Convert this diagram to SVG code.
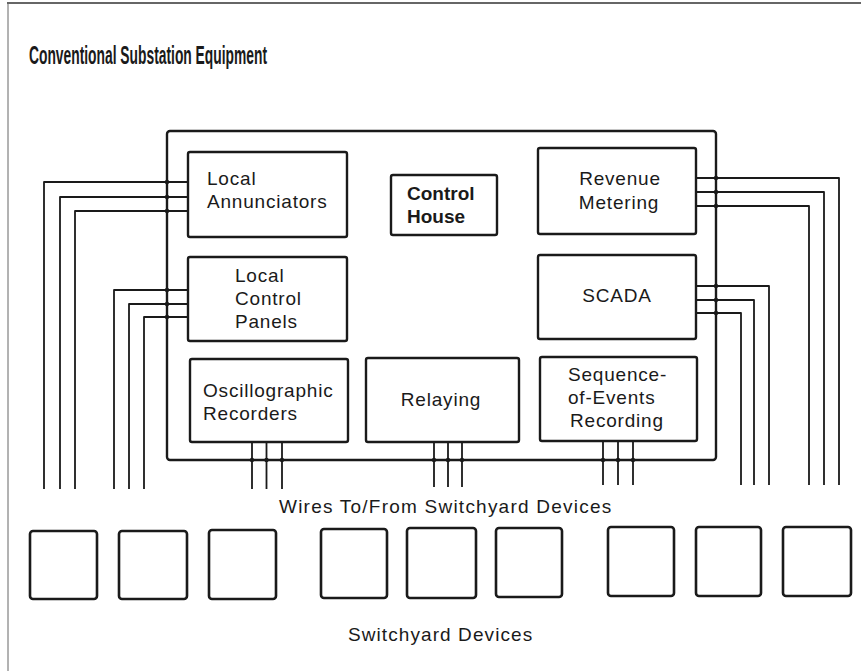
<svg xmlns="http://www.w3.org/2000/svg" width="861" height="671" viewBox="0 0 861 671">
<style>
.bg{fill:#fff}
.box{fill:#fff;stroke:#1a1a1a;stroke-width:2.4}
.dev{fill:#fff;stroke:#1a1a1a;stroke-width:2.6}
.wire{fill:none;stroke:#1a1a1a;stroke-width:1.8;stroke-linejoin:round}
.dot{fill:#1a1a1a}
.t{font-family:"Liberation Sans",Arial,Helvetica,sans-serif;font-size:19px;fill:#1a1a1a;letter-spacing:0.8px}
.tb{font-family:"Liberation Sans",Arial,Helvetica,sans-serif;font-size:19px;font-weight:bold;fill:#1a1a1a}
.title{font-family:"Liberation Sans",Arial,Helvetica,sans-serif;font-size:25px;font-weight:bold;fill:#1a1a1a}
.frame{fill:none;stroke:#333;stroke-width:1.6}
.frameL{fill:none;stroke:#666;stroke-width:1}
</style>
<rect class="bg" x="0" y="0" width="861" height="671"/>
<line class="frame" x1="7" y1="3" x2="861" y2="3"/>
<line class="frameL" x1="8" y1="3" x2="8" y2="671"/>
<text class="title" x="29" y="64" textLength="238" lengthAdjust="spacingAndGlyphs">Conventional Substation Equipment</text>

<g id="control-house">
<rect class="box" x="167" y="131" width="549" height="329" rx="3"/>
</g>

<g id="connectors">
<path class="wire" d="M188,182 H44 V489 M188,197 H60 V489 M188,211 H75 V489"/>
<path class="wire" d="M188,290 H114 V489 M188,304 H129 V489 M188,317 H144 V489"/>
<path class="wire" d="M696,178 H839 V485 M696,192 H824 V485 M696,206 H809 V485"/>
<path class="wire" d="M696,286 H769 V485 M696,300 H754 V485 M696,313 H741 V485"/>
<path class="wire" d="M252,442 V489 M266.5,442 V489 M282,442 V489"/>
<path class="wire" d="M434,442 V487 M448,442 V487 M462,442 V487"/>
<path class="wire" d="M603,441 V485 M618,441 V485 M633,441 V485"/>
<g class="dot">
<circle cx="167" cy="182" r="2.2"/><circle cx="167" cy="197" r="2.2"/><circle cx="167" cy="211" r="2.2"/>
<circle cx="167" cy="290" r="2.2"/><circle cx="167" cy="304" r="2.2"/><circle cx="167" cy="317" r="2.2"/>
<circle cx="716" cy="178" r="2.2"/><circle cx="716" cy="192" r="2.2"/><circle cx="716" cy="206" r="2.2"/>
<circle cx="716" cy="286" r="2.2"/><circle cx="716" cy="300" r="2.2"/><circle cx="716" cy="313" r="2.2"/>
<circle cx="252" cy="460" r="2.2"/><circle cx="266.5" cy="460" r="2.2"/><circle cx="282" cy="460" r="2.2"/>
<circle cx="434" cy="460" r="2.2"/><circle cx="448" cy="460" r="2.2"/><circle cx="462" cy="460" r="2.2"/>
<circle cx="603" cy="460" r="2.2"/><circle cx="618" cy="460" r="2.2"/><circle cx="633" cy="460" r="2.2"/>
</g>
</g>

<g id="local-annunciators">
<rect class="box" x="188" y="152" width="159" height="85" rx="2"/>
<text class="t" x="207" y="185">Local</text>
<text class="t" x="207" y="208">Annunciators</text>
</g>
<g id="local-control-panels">
<rect class="box" x="188" y="257" width="159" height="84" rx="2"/>
<text class="t" x="235" y="282">Local</text>
<text class="t" x="235" y="305">Control</text>
<text class="t" x="235" y="328">Panels</text>
</g>
<g id="oscillographic-recorders">
<rect class="box" x="190" y="359" width="158" height="83" rx="2"/>
<text class="t" x="203" y="397">Oscillographic</text>
<text class="t" x="203" y="420">Recorders</text>
</g>
<g id="control-house-label">
<rect class="box" x="391" y="175" width="106" height="60" rx="2"/>
<text class="tb" x="407" y="200">Control</text>
<text class="tb" x="407" y="223">House</text>
</g>
<g id="relaying">
<rect class="box" x="366" y="358" width="153" height="84" rx="2"/>
<text class="t" x="441" y="406" text-anchor="middle">Relaying</text>
</g>
<g id="revenue-metering">
<rect class="box" x="538" y="148" width="158" height="86" rx="2"/>
<text class="t" x="620" y="185" text-anchor="middle">Revenue</text>
<text class="t" x="619" y="209" text-anchor="middle">Metering</text>
</g>
<g id="scada">
<rect class="box" x="538" y="255" width="158" height="84" rx="2"/>
<text class="t" x="617" y="302" text-anchor="middle">SCADA</text>
</g>
<g id="sequence-of-events">
<rect class="box" x="540" y="357" width="157" height="84" rx="2"/>
<text class="t" x="568" y="381">Sequence-</text>
<text class="t" x="568" y="404">of-Events</text>
<text class="t" x="570" y="427">Recording</text>
</g>

<text class="t" x="279" y="513" textLength="333" lengthAdjust="spacing">Wires To/From Switchyard Devices</text>

<g id="switchyard-devices">
<rect class="dev" x="30" y="531" width="67" height="68" rx="3"/>
<rect class="dev" x="119" y="531" width="68" height="68" rx="3"/>
<rect class="dev" x="209" y="530" width="67" height="69" rx="3"/>
<rect class="dev" x="321" y="529" width="66" height="69" rx="3"/>
<rect class="dev" x="407" y="528" width="69" height="70" rx="3"/>
<rect class="dev" x="496" y="528" width="66" height="69" rx="3"/>
<rect class="dev" x="608" y="527" width="66" height="69" rx="3"/>
<rect class="dev" x="696" y="527" width="65" height="69" rx="3"/>
<rect class="dev" x="783" y="527" width="68" height="69" rx="3"/>
</g>
<text class="t" x="348" y="641" textLength="185" lengthAdjust="spacing">Switchyard Devices</text>
</svg>
